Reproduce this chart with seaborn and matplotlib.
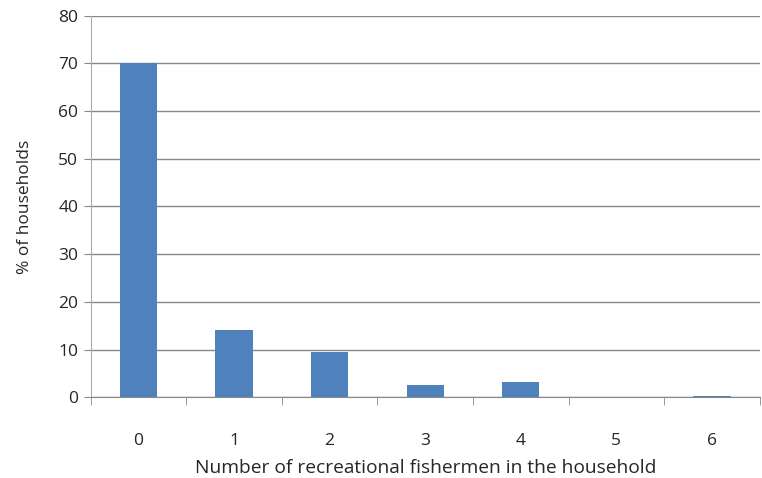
import matplotlib
matplotlib.use("Agg")
import matplotlib.pyplot as plt
import seaborn as sns
import pandas as pd
import numpy as np

fishermen = ["0", "1", "2", "3", "4", "5", "6"]
pct_households = [70.0, 14.0, 9.4, 2.6, 3.2, 0.0, 0.3]

df = pd.DataFrame({"fishermen": fishermen, "pct": pct_households})

sns.set_style("white")
plt.rcParams["font.family"] = ["Open Sans", "DejaVu Sans"]
plt.rcParams["text.color"] = "#262626"
plt.rcParams["xtick.color"] = "#262626"
plt.rcParams["ytick.color"] = "#262626"
plt.rcParams["axes.labelcolor"] = "#262626"

fig = plt.figure(figsize=(7.62, 4.78), dpi=100)
ax = fig.add_axes([0.119, 0.169, 0.878, 0.798])

sns.barplot(data=df, x="fishermen", y="pct", color="#4F81BD", width=0.39,
            saturation=1, linewidth=0, edgecolor="none", ax=ax, zorder=3)

ax.set_ylim(0, 80)
ax.set_xlim(-0.5, 6.5)
ax.set_yticks(range(0, 81, 10))
ax.yaxis.grid(True, color="#888888", linewidth=1, zorder=0)
ax.set_axisbelow(True)

for s in ["top", "right"]:
    ax.spines[s].set_visible(False)
ax.spines["left"].set_color("#aaaaaa")
ax.spines["bottom"].set_color("#888888")

ax.tick_params(axis="y", left=True, length=5, color="#888888", labelsize=12.5, pad=4)
ax.tick_params(axis="x", which="major", bottom=False, length=0, labelsize=12.5, pad=26)
ax.set_xticks(np.arange(-0.5, 7, 1), minor=True)
ax.tick_params(axis="x", which="minor", bottom=True, length=6, color="#888888")

ax.set_xlabel("Number of recreational fishermen in the household", fontsize=13.8, labelpad=7)
ax.set_ylabel("% of households", fontsize=12.5, labelpad=18)

fig.savefig("out.png", dpi=100)
